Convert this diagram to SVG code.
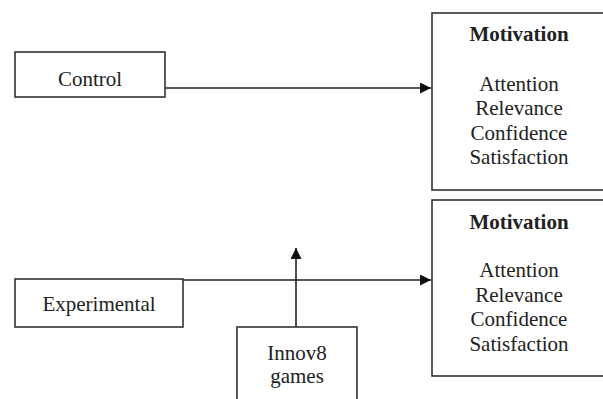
<svg xmlns="http://www.w3.org/2000/svg" width="603" height="399" viewBox="0 0 603 399">
<defs>
<style>
.box{fill:#fff;stroke:#333;stroke-width:1.6}
.t{font-family:'Liberation Serif','Times New Roman',Times,'DejaVu Serif',serif;font-size:21px;fill:#222;text-anchor:middle}
.b{font-weight:bold}
.c{stroke:#222;stroke-width:1.6;fill:none}
</style>
<marker id="ah" markerWidth="12" markerHeight="12" refX="11" refY="5.5" orient="auto" markerUnits="userSpaceOnUse">
<path d="M0,0 L11,5.5 L0,11 Z" fill="#111"/>
</marker>
</defs>
<rect width="603" height="399" fill="#fff"/>
<g id="connectors">
<line class="c" x1="165" y1="88" x2="431" y2="88" marker-end="url(#ah)"/>
<line class="c" x1="183" y1="280" x2="431" y2="280" marker-end="url(#ah)"/>
<line class="c" x1="296" y1="327" x2="296" y2="248" marker-end="url(#ah)"/>
</g>
<g id="control">
<rect class="box" x="15" y="52" width="150" height="45"/>
<text class="t" x="90" y="86">Control</text>
</g>
<g id="motivation1">
<rect class="box" x="432" y="13" width="180" height="177"/>
<text class="t b" x="519" y="41">Motivation</text>
<text class="t" x="519" y="91">Attention</text>
<text class="t" x="519" y="115">Relevance</text>
<text class="t" x="519" y="139.5">Confidence</text>
<text class="t" x="519" y="164">Satisfaction</text>
</g>
<g id="experimental">
<rect class="box" x="15" y="279" width="168" height="48"/>
<text class="t" x="99" y="311">Experimental</text>
</g>
<g id="motivation2">
<rect class="box" x="432" y="200" width="180" height="176"/>
<text class="t b" x="519" y="229">Motivation</text>
<text class="t" x="519" y="277">Attention</text>
<text class="t" x="519" y="302">Relevance</text>
<text class="t" x="519" y="326">Confidence</text>
<text class="t" x="519" y="351">Satisfaction</text>
</g>
<g id="innov8">
<rect class="box" x="237" y="327" width="120" height="80"/>
<text class="t" x="297" y="360">Innov8</text>
<text class="t" x="297" y="383">games</text>
</g>
</svg>
